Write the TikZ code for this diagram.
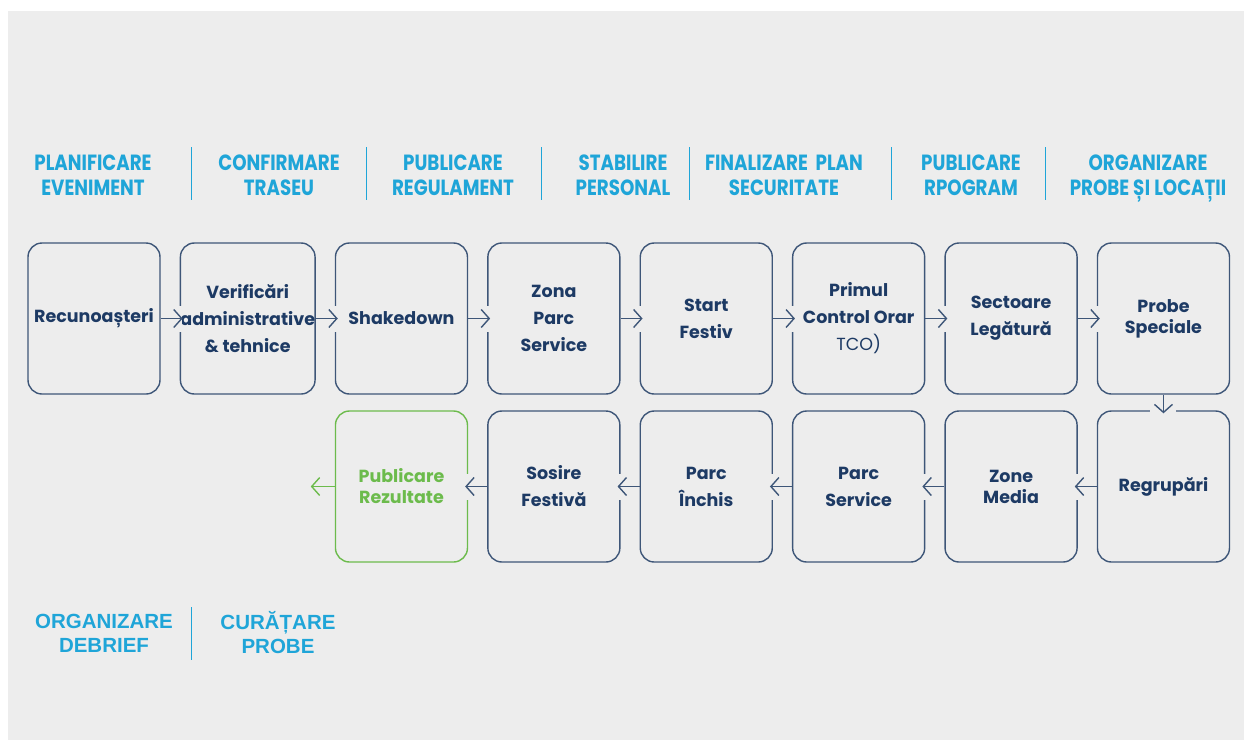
\documentclass[tikz,border=0pt]{standalone}
\usepackage{fontspec}
\setmainfont{Poppins}
\newfontfamily\headfont{Poppins}[FakeStretch=0.83]
\newfontfamily\arialfont{Liberation Sans}
\usetikzlibrary{positioning,arrows.meta}
\definecolor{navy}{HTML}{1D3A64}
\definecolor{boxline}{HTML}{3E5678}
\definecolor{skyblue}{HTML}{1FA5D8}
\definecolor{leafgreen}{HTML}{6CBB4C}
\definecolor{panel}{HTML}{EDEDED}
\tikzset{
  stage/.style={draw=boxline, line width=1.4pt, rounded corners=14pt,
    minimum width=132pt, minimum height=151pt, inner sep=0pt,
    align=center, text=navy, font=\fontsize{17.5}{27}\selectfont\bfseries},
  tight/.style={font=\fontsize{17.5}{21}\selectfont\bfseries},
  lastbox/.style={stage, draw=leafgreen, text=leafgreen},
  flow/.style={draw=boxline, line width=1.4pt, shorten >=-3pt,
    -{Straight Barb[length=8pt,width=18pt]},
    preaction={draw=panel, -, line width=26pt, shorten <=13pt, shorten >=-2pt}},
  phase/.style={text=skyblue, align=center,
    font=\headfont\fontsize{22}{25}\selectfont\bfseries},
  debrief/.style={text=skyblue, align=center,
    font=\arialfont\fontsize{20.5}{24}\selectfont\bfseries},
  divider/.style={draw=skyblue, line width=1pt}
}
\begin{document}
\begin{tikzpicture}[x=1pt, y=-1pt, node distance=15.6pt and 19pt]
  \useasboundingbox[fill=white] (0,0) rectangle (1244,740);
  \fill[panel] (8,11) rectangle (1244,740);

  \node[phase] (plan)  at (93,175)   {PLANIFICARE\\EVENIMENT};
  \node[phase] (traseu) at (279,175) {CONFIRMARE\\TRASEU};
  \node[phase] (regul) at (453,175)  {PUBLICARE\\REGULAMENT};
  \node[phase] (pers)  at (623,175)  {STABILIRE\\PERSONAL};
  \node[phase] (secur) at (784,175)  {FINALIZARE\ \ PLAN\\SECURITATE};
  \node[phase] (progr) at (971,175)  {PUBLICARE\\RPOGRAM};
  \node[phase] (locat) at (1148,179) {ORGANIZARE\\PROBE ȘI LOCAȚII};
  \foreach \x in {191,366,541,689,891,1045}
    \draw[divider] (\x,147) -- (\x,200);

  \node[stage]                  (recon)  at (94,318.5) {Recunoașteri};
  \node[stage, right=of recon]  (verif)  {Verificări\\administrative\\\& tehnice};
  \node[stage, right=of verif]  (shake)  {Shakedown};
  \node[stage, right=of shake]  (zona)   {Zona\\Parc\\Service};
  \node[stage, right=of zona]   (start)  {Start\\Festiv};
  \node[stage, right=of start]  (tco)    {Primul\\Control Orar\\\mdseries TCO)};
  \node[stage, right=of tco]    (sector) {Sectoare\\Legătură};
  \node[stage, tight, right=of sector] (probe) {Probe\\Speciale};

  \node[stage, below=of probe]  (regrup) {Regrupări};
  \node[stage, tight, left=of regrup] (media) {Zone\\Media};
  \node[stage, left=of media]   (service) {Parc\\Service};
  \node[stage, left=of service] (inchis) {Parc\\Închis};
  \node[stage, left=of inchis]  (sosire) {Sosire\\Festivă};
  \node[lastbox, tight, left=of sosire] (rezult) {Publicare\\Rezultate};
  \coordinate[left=21pt of rezult] (iesire);

  \draw[flow] (recon.east) -- (verif.west);
  \draw[flow] (verif.east) -- (shake.west);
  \draw[flow] (shake.east) -- (zona.west);
  \draw[flow] (zona.east) -- (start.west);
  \draw[flow] (start.east) -- (tco.west);
  \draw[flow] (tco.east) -- (sector.west);
  \draw[flow] (sector.east) -- (probe.west);
  \draw[flow] (probe.south) -- (regrup.north);
  \draw[flow] (regrup.west) -- (media.east);
  \draw[flow] (media.west) -- (service.east);
  \draw[flow] (service.west) -- (inchis.east);
  \draw[flow] (inchis.west) -- (sosire.east);
  \draw[flow] (sosire.west) -- (rezult.east);
  \draw[flow, draw=leafgreen] (rezult.west) -- (iesire);

  \node[debrief] (debr)  at (104,633) {ORGANIZARE\\DEBRIEF};
  \node[debrief] (curat) at (278,633) {CURĂȚARE\\PROBE};
  \draw[divider] (191,607) -- (191,660);
\end{tikzpicture}
\end{document}
